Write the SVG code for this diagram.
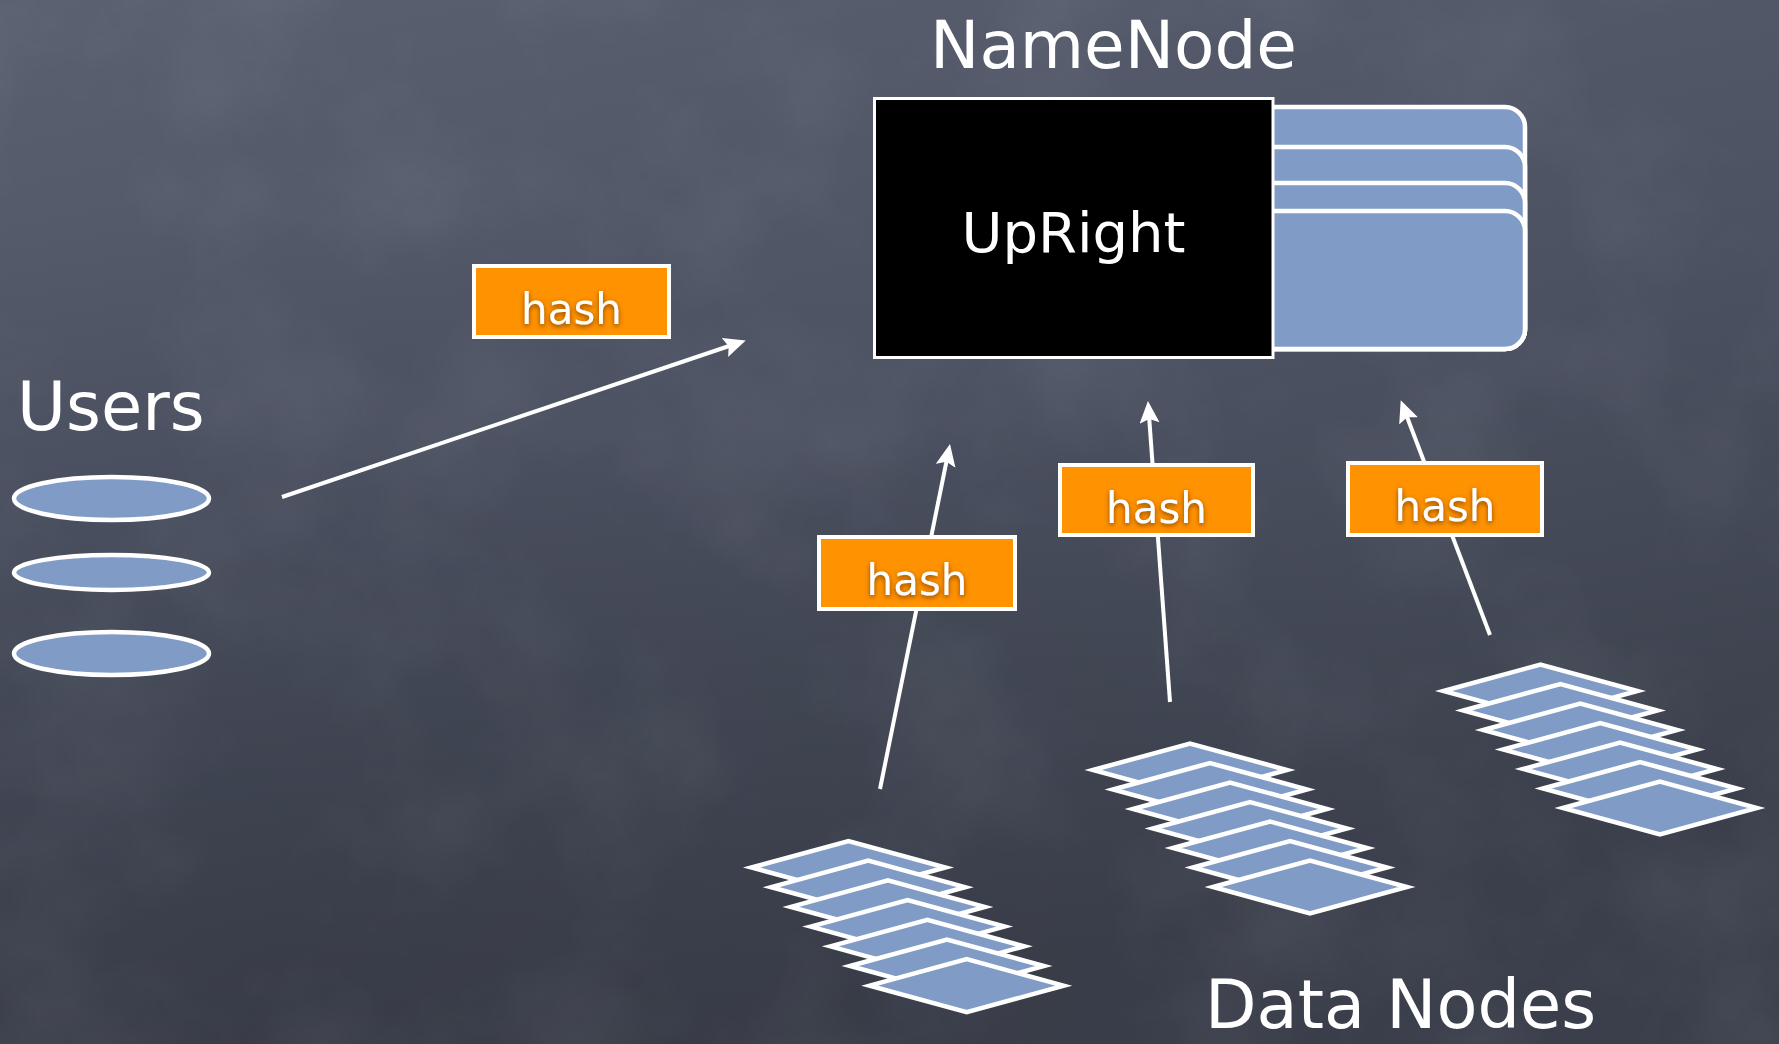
<svg xmlns="http://www.w3.org/2000/svg" xmlns:xlink="http://www.w3.org/1999/xlink" width="1779" height="1044" viewBox="0 0 1779 1044">
  <defs>
    <style>
      .title { font-family: "DejaVu Sans", "Liberation Sans", sans-serif; fill: #ffffff; }
      .blue { fill: #809bc5; stroke: #ffffff; stroke-width: 4.5; stroke-linejoin: miter; }
      .hashbox { fill: #ff9200; stroke: #ffffff; stroke-width: 4; }
      .hashtext { font-family: "DejaVu Sans", "Liberation Sans", sans-serif; font-size: 42px; fill: #ffffff; text-anchor: middle; filter: url(#glow); }
      .conn { stroke: #ffffff; stroke-width: 4; fill: none; marker-end: url(#head); }
    </style>
    <linearGradient id="board" x1="0" y1="0" x2="0.35" y2="1">
      <stop offset="0" stop-color="#5a6070"/>
      <stop offset="0.5" stop-color="#4c5262"/>
      <stop offset="1" stop-color="#3b3f4b"/>
    </linearGradient>
    <radialGradient id="shade" cx="0.15" cy="0.9" r="0.7">
      <stop offset="0" stop-color="#2a2d36" stop-opacity="0.3"/>
      <stop offset="1" stop-color="#2a2d36" stop-opacity="0"/>
    </radialGradient>
    <filter id="chalk" x="0" y="0" width="1" height="1">
      <feTurbulence type="fractalNoise" baseFrequency="0.006" numOctaves="5" seed="11"/>
      <feColorMatrix type="matrix" values="0 0 0 0 0.72  0 0 0 0 0.76  0 0 0 0 0.84  0 0 0 0.45 -0.18"/>
    </filter>
    <filter id="glow" x="-20%" y="-20%" width="140%" height="160%">
      <feGaussianBlur in="SourceAlpha" stdDeviation="2.5"/>
      <feOffset dx="0" dy="2" result="b"/>
      <feFlood flood-color="#7a3a00" flood-opacity="0.9"/>
      <feComposite in2="b" operator="in"/>
      <feMerge><feMergeNode/><feMergeNode in="SourceGraphic"/></feMerge>
    </filter>
    <marker id="head" markerUnits="userSpaceOnUse" markerWidth="24" markerHeight="22" refX="17" refY="10" orient="auto">
      <path d="M0,0 L22,10 L0,20 L4,10 Z" fill="#ffffff"/>
    </marker>
    <path id="dia" d="M-97,0 L0,-26.5 L97,0 L0,26.5 Z"/>
  </defs>

  <!-- chalkboard background -->
  <rect width="1779" height="1044" fill="url(#board)"/>
  <rect width="1779" height="1044" fill="url(#shade)"/>
  <rect width="1779" height="1044" filter="url(#chalk)" opacity="0.3"/>

  <!-- connectors -->
  <g id="connectors">
    <line class="conn" x1="282" y1="497" x2="741" y2="342"/>
    <line class="conn" x1="880" y1="789" x2="949" y2="449"/>
    <line class="conn" x1="1170" y1="702" x2="1148.3" y2="406"/>
    <line class="conn" x1="1490" y1="635" x2="1402.5" y2="405"/>
  </g>

  <!-- NameNode with its state tabs -->
  <g id="namenode">
    <text class="title" x="1113.5" y="68" font-size="66" text-anchor="middle">NameNode</text>
    <rect class="blue" x="1250" y="107" width="275" height="242" rx="20"/>
    <rect class="blue" x="1250" y="147" width="275" height="202" rx="20"/>
    <rect class="blue" x="1250" y="183" width="275" height="166" rx="20"/>
    <rect class="blue" x="1250" y="211" width="275" height="138" rx="20"/>
    <rect x="874.5" y="98.5" width="398.5" height="259" fill="#000000" stroke="#ffffff" stroke-width="3"/>
    <text class="title" x="1073.5" y="252" font-size="56" text-anchor="middle">UpRight</text>
  </g>

  <!-- Users -->
  <g id="users">
    <text class="title" x="17" y="430" font-size="67">Users</text>
    <ellipse class="blue" cx="111.5" cy="498.5" rx="97.5" ry="21.5"/>
    <ellipse class="blue" cx="111.5" cy="572.5" rx="97.5" ry="17.5"/>
    <ellipse class="blue" cx="111.5" cy="653.5" rx="97.5" ry="21.5"/>
  </g>

  <!-- hash labels -->
  <g id="hash-users">
    <rect class="hashbox" x="474" y="266" width="195" height="71"/>
    <text class="hashtext" x="571.5" y="324">hash</text>
  </g>
  <g id="hash-dn1">
    <rect class="hashbox" x="819" y="537" width="196" height="72"/>
    <text class="hashtext" x="917" y="595">hash</text>
  </g>
  <g id="hash-dn2">
    <rect class="hashbox" x="1060" y="465" width="193" height="70"/>
    <text class="hashtext" x="1156.5" y="523">hash</text>
  </g>
  <g id="hash-dn3">
    <rect class="hashbox" x="1348" y="463" width="194" height="72"/>
    <text class="hashtext" x="1445" y="521">hash</text>
  </g>

  <!-- data node stacks -->
  <g id="datanode-1" class="blue">
    <use xlink:href="#dia" href="#dia" x="848.5" y="867.5"/>
    <use xlink:href="#dia" href="#dia" x="868.2" y="887.2"/>
    <use xlink:href="#dia" href="#dia" x="887.9" y="906.9"/>
    <use xlink:href="#dia" href="#dia" x="907.6" y="926.6"/>
    <use xlink:href="#dia" href="#dia" x="927.3" y="946.3"/>
    <use xlink:href="#dia" href="#dia" x="947" y="966"/>
    <use xlink:href="#dia" href="#dia" x="966.7" y="985.7"/>
  </g>
  <g id="datanode-2" class="blue">
    <use xlink:href="#dia" href="#dia" x="1190" y="770"/>
    <use xlink:href="#dia" href="#dia" x="1210" y="789.5"/>
    <use xlink:href="#dia" href="#dia" x="1230" y="809"/>
    <use xlink:href="#dia" href="#dia" x="1250" y="828.5"/>
    <use xlink:href="#dia" href="#dia" x="1270" y="848"/>
    <use xlink:href="#dia" href="#dia" x="1290" y="867.5"/>
    <use xlink:href="#dia" href="#dia" x="1310" y="887"/>
  </g>
  <g id="datanode-3" class="blue">
    <use xlink:href="#dia" href="#dia" x="1540.5" y="691"/>
    <use xlink:href="#dia" href="#dia" x="1560.4" y="710.5"/>
    <use xlink:href="#dia" href="#dia" x="1580.3" y="730"/>
    <use xlink:href="#dia" href="#dia" x="1600.2" y="749.5"/>
    <use xlink:href="#dia" href="#dia" x="1620.1" y="769"/>
    <use xlink:href="#dia" href="#dia" x="1640" y="788.5"/>
    <use xlink:href="#dia" href="#dia" x="1659.9" y="808"/>
  </g>

  <g id="datanodes-label">
    <text class="title" x="1205" y="1028" font-size="67">Data Nodes</text>
  </g>
</svg>
